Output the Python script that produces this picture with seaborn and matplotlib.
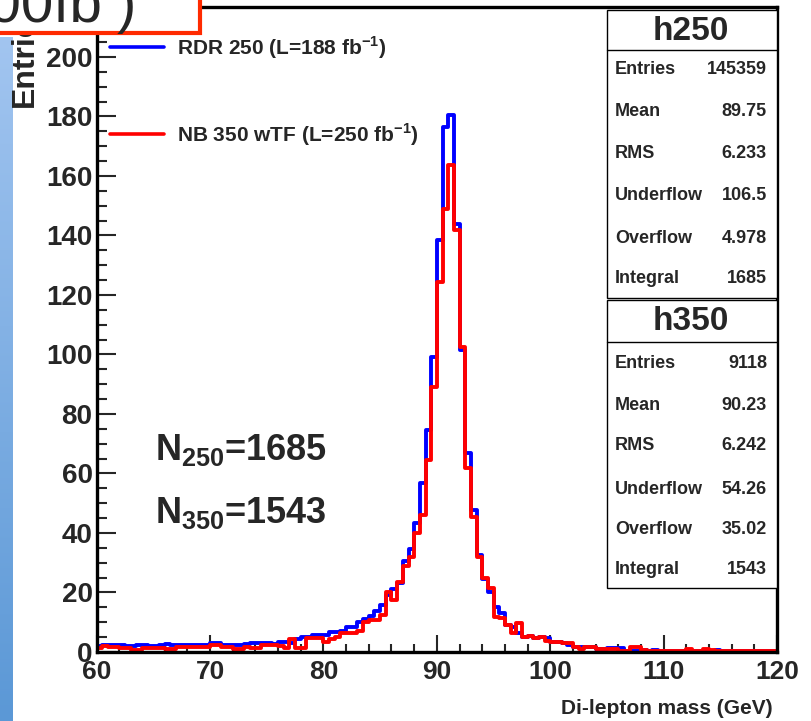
import numpy as np
import pandas as pd
import matplotlib
matplotlib.use("Agg")
import matplotlib.pyplot as plt
import seaborn as sns
from matplotlib.patches import Rectangle
from matplotlib.lines import Line2D
from matplotlib.colors import LinearSegmentedColormap
from matplotlib.ticker import MultipleLocator

# ==========================================================
#  DATA (0.5 GeV bins from 60 to 120)
# ==========================================================
BIN_LO, BIN_HI, BIN_WIDTH = 60.0, 120.0, 0.5

rdr250 = [
    2.0, 2.5, 2.5, 2.5, 2.2, 2.0, 2.0, 2.5, 2.5, 2.0,          # 60-65
    2.0, 2.5, 2.7, 2.3, 2.3, 2.3, 2.5, 2.5, 2.5, 2.5,          # 65-70
    2.9, 2.9, 2.4, 2.4, 2.4, 2.4, 2.8, 3.1, 3.1, 3.1,          # 70-75
    3.1, 2.7, 3.5, 3.5, 2.9, 4.4, 5.0, 5.0, 5.7, 5.7,          # 75-80
    5.7, 6.8, 6.8, 7.2, 8.3, 8.3, 10.2, 11.0, 12.1, 13.8,      # 80-85
    15.8, 19.1, 21.2, 23.3, 30.7, 34.6, 43.2, 56.7, 74.6, 99.3,   # 85-90
    138.5, 176.6, 180.5, 143.9, 101.5, 66.8, 47.7, 32.5, 24.5, 20.0,  # 90-95
    15.2, 13.1, 9.0, 8.5, 6.3, 5.0, 5.5, 4.6, 5.1, 4.6,        # 95-100
    3.4, 3.4, 2.9, 2.4, 1.8, 1.8, 1.8, 1.8, 0.9, 0.9,          # 100-105
    1.2, 1.2, 1.2, 0.3, 0.3, 0.3, 0.7, 0.5, 0.6, 0.3,          # 105-110
    0.2, 0.2, 0.2, 0.2, 0.2, 0.3, 0.5, 0.4, 0.4, 0.6,          # 110-115
    0.4, 0.2, 0.2, 0.2, 0.2, 0.2, 0.2, 0.2, 0.2, 0.2,          # 115-120
]

nb350 = [
    1.2, 2.0, 1.8, 1.8, 1.2, 1.2, 0.7, 0.7, 1.2, 1.2,
    1.5, 1.5, 0.9, 0.9, 1.6, 1.6, 1.8, 1.8, 1.8, 1.8,
    2.4, 2.4, 1.8, 1.8, 1.0, 1.0, 1.8, 1.2, 1.2, 2.4,
    2.3, 2.3, 2.0, 1.5, 4.4, 1.5, 1.5, 4.6, 4.6, 4.6,
    3.5, 4.4, 5.2, 6.3, 6.3, 6.3, 7.2, 10.2, 10.7, 10.7,
    12.4, 20.3, 17.5, 23.4, 29.0, 31.8, 39.9, 46.0, 64.5, 89.2,
    124.5, 149.0, 163.7, 141.8, 102.6, 61.7, 45.5, 32.0, 24.8, 21.4,
    11.9, 11.4, 9.1, 6.3, 9.7, 5.1, 5.5, 4.6, 5.1, 3.8,
    3.3, 3.4, 2.9, 2.9, 1.8, 0.9, 1.8, 1.8, 0.9, 0.9,
    0.9, 0.9, 0.5, 0.5, 1.8, 1.8, 0.8, 0.3, 0.3, 0.3,
    0.3, 0.3, 0.3, 0.3, 0.9, 0.5, 0.5, 0.9, 0.7, 0.5,
    0.5, 0.3, 0.3, 0.3, 0.3, 0.3, 0.3, 0.3, 0.3, 0.3,
]

legend_labels = [r"RDR 250 (L=188 fb$^{\mathbf{-1}}$)",
                 r"NB 350 wTF (L=250 fb$^{\mathbf{-1}}$)"]
stat_names = ["Entries", "Mean", "RMS", "Underflow", "Overflow", "Integral"]
h250_values = ["145359", "89.75", "6.233", "106.5", "4.978", "1685"]
h350_values = ["9118", "90.23", "6.242", "54.26", "35.02", "1543"]
n_labels = [r"$\mathbf{N_{250}}$=1685", r"$\mathbf{N_{350}}$=1543"]

centers = BIN_LO + BIN_WIDTH * (np.arange(len(rdr250)) + 0.5)
df = pd.DataFrame({"mass": centers, "rdr": rdr250, "nb": nb350})

# ==========================================================
#  STYLE
# ==========================================================
sns.set_style("white")
plt.rcParams["font.family"] = ["Liberation Sans", "DejaVu Sans"]
plt.rcParams["font.weight"] = "bold"
plt.rcParams["mathtext.fontset"] = "custom"
plt.rcParams["mathtext.rm"] = "Liberation Sans"
plt.rcParams["mathtext.bf"] = "Liberation Sans:bold"

W, H = 811, 721
fig = plt.figure(figsize=(W / 100, H / 100), dpi=100)


def fx(px):
    return px / W


def fy(py):
    return 1 - py / H


# blue strip at the left edge (slide background)
strip = fig.add_axes([0, 0, fx(13), fy(37)])
grad = np.linspace(0, 1, 256).reshape(-1, 1)
cmap = LinearSegmentedColormap.from_list("strip", ["#a2c5f0", "#5b98d6"])
strip.imshow(grad, aspect="auto", cmap=cmap)
strip.axis("off")

ax = fig.add_axes([fx(96.7), fy(652), fx(777 - 96.7), (652 - 7) / H])

blue, red = "#0000ff", "#ff0000"
for col, c in [("rdr", blue), ("nb", red)]:
    sns.histplot(data=df, x="mass", weights=col, binwidth=BIN_WIDTH,
                 binrange=(BIN_LO, BIN_HI), element="step", fill=False,
                 color=c, linewidth=2.8, ax=ax)

ax.set_xlim(BIN_LO, BIN_HI)
ax.set_ylim(0, 216.8)
ax.set_xlabel("")
ax.set_ylabel("")

ax.xaxis.set_major_locator(MultipleLocator(10))
ax.xaxis.set_minor_locator(MultipleLocator(2))
ax.yaxis.set_major_locator(MultipleLocator(20))
ax.yaxis.set_minor_locator(MultipleLocator(5))
ax.tick_params(axis="y", which="major", direction="in", length=14, width=1.5,
               labelsize=20, pad=3, left=True)
ax.tick_params(axis="y", which="minor", direction="in", length=7, width=1.5, left=True)
ax.tick_params(axis="x", which="major", direction="in", length=12, width=1.5,
               labelsize=19, pad=6, bottom=True)
ax.tick_params(axis="x", which="minor", direction="in", length=5.5, width=1.5, bottom=True)
for sp in ax.spines.values():
    sp.set_linewidth(2.4)
    sp.set_color("black")

# legend
handles = [Line2D([], [], color=blue, lw=2.6), Line2D([], [], color=red, lw=2.6)]
ax.legend(handles, legend_labels, loc="upper left",
          bbox_to_anchor=(fx(110), fy(34)), bbox_transform=fig.transFigure,
          frameon=False, borderpad=0, borderaxespad=0, handlelength=2.6,
          handletextpad=0.6, labelspacing=2.9, fontsize=15)

# N annotations
for lab, base in zip(n_labels, [460, 523]):
    fig.text(fx(155), fy(base), lab, fontsize=26, ha="left", va="baseline")

# axis titles
fig.text(fx(773), fy(718), "Di-lepton mass (GeV)", fontsize=15, ha="right", va="bottom")
fig.text(fx(25), fy(107), "Entries", fontsize=23, rotation=90, ha="center", va="bottom")


# stats boxes
def stats_box(top, sep, bottom, title, values, rows):
    fig.patches.append(Rectangle((fx(607), fy(bottom)), fx(777 - 607), (bottom - top) / H,
                                 transform=fig.transFigure, facecolor="white",
                                 edgecolor="black", lw=1.0, zorder=5))
    fig.lines.append(Line2D([fx(607), fx(777)], [fy(sep), fy(sep)],
                            transform=fig.transFigure, color="black", lw=1.0, zorder=6))
    fig.text(fx(691), fy((top + sep) / 2 + 1), title, fontsize=24,
             ha="center", va="center", zorder=7)
    for name, val, ry in zip(stat_names, values, rows):
        fig.text(fx(615), fy(ry), name, fontsize=13, ha="left", va="center", zorder=7)
        fig.text(fx(767), fy(ry), val, fontsize=13, ha="right", va="center", zorder=7)


stats_box(10, 50, 298, "h250", h250_values, [70, 112, 153, 196, 238, 278])
stats_box(300, 342, 588, "h350", h350_values, [363, 405, 446, 489, 529, 570])

# red box at the top-left corner (cropped slide title)
fig.patches.append(Rectangle((fx(-10), fy(33)), fx(210), 43 / H, transform=fig.transFigure,
                             facecolor="white", edgecolor="#ff2a00", lw=3, zorder=8))
fig.text(fx(102), fy(22), "(L=500fb", fontsize=42, fontweight="normal",
         ha="right", va="baseline", zorder=9)
fig.text(fx(117), fy(22), ")", fontsize=42, fontweight="normal",
         ha="left", va="baseline", zorder=9)

fig.savefig("out.png", dpi=100)
